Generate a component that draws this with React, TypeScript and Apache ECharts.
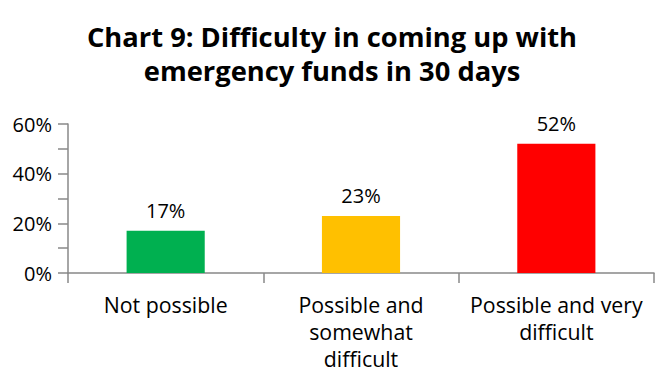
import React, { useEffect, useRef } from "react";
import * as echarts from "echarts";

const categories = ["Not possible", "Possible and somewhat difficult", "Possible and very difficult"];
const categoryLabels = ["Not possible", "Possible and\nsomewhat\ndifficult", "Possible and very\ndifficult"];
const values = [17, 23, 52];
const barColors = ["#00B050", "#FFC000", "#FF0000"];
const titleText = "Chart 9: Difficulty in coming up with\nemergency funds in 30 days";

export default function App() {
  const ref = useRef<HTMLDivElement>(null);
  useEffect(() => {
    const chart = echarts.init(ref.current!, null, { renderer: "svg" });
    const font = "'Open Sans', 'Noto Sans', sans-serif";
    chart.setOption({
      animation: false,
      textStyle: { fontFamily: font },
      title: {
        text: titleText,
        left: "center",
        top: 14,
        textStyle: { fontFamily: font, fontSize: 27.3, fontWeight: "bold", color: "#000", lineHeight: 34 },
      },
      grid: { left: 68, right: 10, top: 124, bottom: 111, containLabel: false },
      xAxis: {
        type: "category",
        data: categories,
        axisLine: { lineStyle: { color: "#888", width: 1.5 } },
        axisTick: { show: true, length: 10, lineStyle: { color: "#888", width: 1.5 } },
        axisLabel: {
          interval: 0,
          color: "#000",
          fontSize: 21.3,
          lineHeight: 27,
          margin: 18,
          fontFamily: font,
          formatter: (_v: string, i: number) => categoryLabels[i],
        },
      },
      yAxis: {
        type: "value",
        min: 0,
        max: 60,
        interval: 10,
        splitLine: { show: false },
        axisLine: { show: true, lineStyle: { color: "#888", width: 1.5 } },
        axisTick: { show: true, length: 10, lineStyle: { color: "#888", width: 1.5 } },
        axisLabel: {
          color: "#000",
          fontSize: 20,
          margin: 16,
          fontFamily: font,
          formatter: (v: number) => (v % 20 === 0 ? v + "%" : ""),
        },
      },
      series: [
        {
          type: "bar",
          barWidth: "40%",
          data: values.map((v, i) => ({ value: v, itemStyle: { color: barColors[i] } })),
          label: {
            show: true,
            position: "top",
            distance: 10,
            color: "#000",
            fontSize: 20,
            fontFamily: font,
            formatter: (p: any) => p.value + "%",
          },
        },
      ],
    });
    return () => chart.dispose();
  }, []);
  return <div ref={ref} style={{ width: 664, height: 384, position: "absolute", left: 0, top: 0 }} />;
}
